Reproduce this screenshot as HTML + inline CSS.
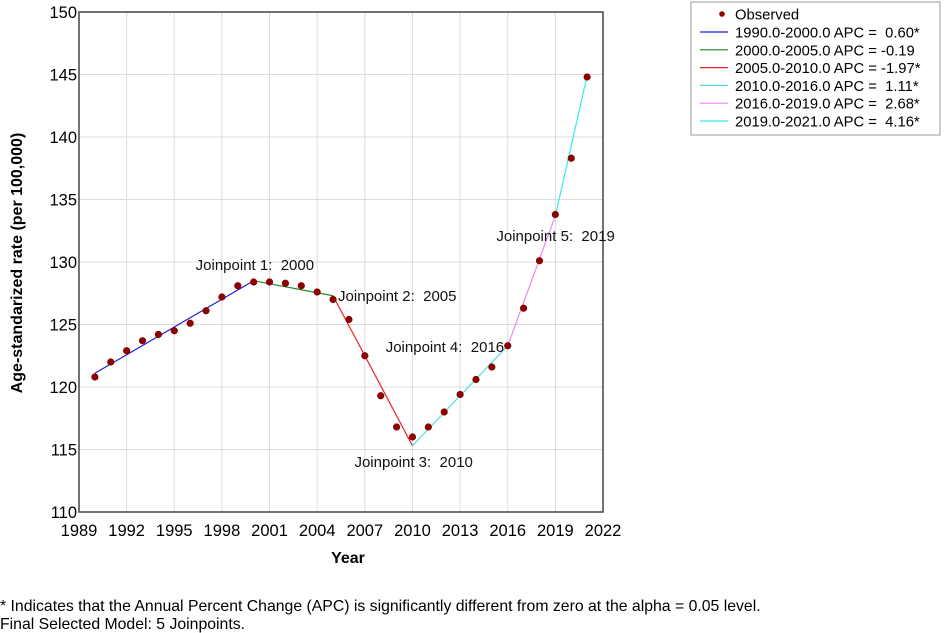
<!DOCTYPE html>
<html><head><meta charset="utf-8"><style>
html,body{margin:0;padding:0;background:#fff;}
svg{display:block;font-family:"Liberation Sans",Arial,sans-serif;}
text{white-space:pre;}
</style></head><body>
<svg id="chart" width="945" height="633" viewBox="0 0 945 633" xmlns="http://www.w3.org/2000/svg">
<g id="grid"></g>
<g id="lines"></g>
<g id="dots"></g>
<g id="axes"></g>
<g id="labels" font-size="15" fill="#111"></g>
<text x="0" y="0" transform="translate(22,263) rotate(-90)" text-anchor="middle" font-size="16" font-weight="bold">Age-standarized rate (per 100,000)</text>
<text x="348" y="563" text-anchor="middle" font-size="16" font-weight="bold">Year</text>
<text x="0" y="611" font-size="15.8">* Indicates that the Annual Percent Change (APC) is significantly different from zero at the alpha = 0.05 level.</text>
<text x="0" y="629" font-size="15.8">Final Selected Model: 5 Joinpoints.</text>
<g id="legend">
<rect x="691" y="2" width="249" height="133" fill="#fff" stroke="#999" stroke-width="1"/>
</g>
</svg>
<script>
const years = [1990,1991,1992,1993,1994,1995,1996,1997,1998,1999,2000,2001,2002,2003,2004,2005,2006,2007,2008,2009,2010,2011,2012,2013,2014,2015,2016,2017,2018,2019,2020,2021];
const observed = [120.8,122.0,122.9,123.7,124.2,124.5,125.1,126.1,127.2,128.1,128.4,128.4,128.3,128.1,127.6,127.0,125.4,122.5,119.3,116.8,116.0,116.8,118.0,119.4,120.6,121.6,123.3,126.3,130.1,133.8,138.3,144.8];
const jpYears = [1990,2000,2005,2010,2016,2019,2021];
const jpFitted = [121.1,128.5,127.3,115.3,123.3,133.7,144.9];
const segColors = ["#2020d0","#228822","#ee2222","#55dddd","#ee88ee","#33eeee"];
const legendLabels = ["1990.0-2000.0 APC =  0.60*","2000.0-2005.0 APC = -0.19","2005.0-2010.0 APC = -1.97*","2010.0-2016.0 APC =  1.11*","2016.0-2019.0 APC =  2.68*","2019.0-2021.0 APC =  4.16*"];
const xTicks = [1989,1992,1995,1998,2001,2004,2007,2010,2013,2016,2019,2022];
const yTicks = [110,115,120,125,130,135,140,145,150];
const jpLabels = ["Joinpoint 1:  2000","Joinpoint 2:  2005","Joinpoint 3:  2010","Joinpoint 4:  2016","Joinpoint 5:  2019"];

const NS="http://www.w3.org/2000/svg";
const X0=79,X1=603,Y0=512,Y1=12;
function xs(v){return X0+(v-1989)/(2022-1989)*(X1-X0);}
function ys(v){return Y0-(v-110)/(150-110)*(Y0-Y1);}
function mk(tag,attrs,parent){const e=document.createElementNS(NS,tag);for(const k in attrs)e.setAttribute(k,attrs[k]);parent.appendChild(e);return e;}
const grid=document.getElementById('grid'),axes=document.getElementById('axes'),lines=document.getElementById('lines'),dots=document.getElementById('dots'),labels=document.getElementById('labels'),legend=document.getElementById('legend');

xTicks.forEach(t=>{
  const l=mk('line',{x1:xs(t),x2:xs(t),y1:Y1,y2:Y0,stroke:'#dcdcdc','stroke-width':1},grid);
  
  
  const tx=mk('text',{x:xs(t),y:Y0+24,'text-anchor':'middle','font-size':16.5},axes);
  tx.textContent=t;
  
  
});
yTicks.forEach(t=>{
  const l=mk('line',{x1:X0,x2:X1,y1:ys(t),y2:ys(t),stroke:'#dcdcdc','stroke-width':1},grid);
  
  
  const tx=mk('text',{x:X0-2,y:ys(t)+6,'text-anchor':'end','font-size':16.5},axes);
  tx.textContent=t;
  
  
});
const frame=mk('path',{d:`M${X0},${Y1}H${X1}V${Y0}H${X0}Z`,fill:'none',stroke:'#444','stroke-width':1.5},axes);



for(let i=0;i<jpYears.length-1;i++){
  const l=mk('line',{x1:xs(jpYears[i]),y1:ys(jpFitted[i]),x2:xs(jpYears[i+1]),y2:ys(jpFitted[i+1]),stroke:segColors[i],'stroke-width':1.2},lines);
  
  
}
years.forEach((y,i)=>{
  const c=mk('circle',{cx:xs(y),cy:ys(observed[i]),r:3.6,fill:'#8b0000'},dots);
  
  
});
const jpOff=[[-58,-11],[5,5],[-58,21],[-122,6],[-59,25]];
for(let i=1;i<=5;i++){
  const o=jpOff[i-1];
  const t=mk('text',{x:xs(jpYears[i])+o[0],y:ys(jpFitted[i])+o[1]},labels);
  t.textContent=jpLabels[i-1];
  
  
}
const lc=mk('circle',{cx:722,cy:14,r:2.8,fill:'#8b0000'},legend);


const lt=mk('text',{x:735,y:19.5,'font-size':14.8},legend);
lt.textContent='Observed';


legendLabels.forEach((s,i)=>{
  const y=32+i*17.8;
  const l=mk('line',{x1:700,x2:728,y1:y,y2:y,stroke:segColors[i],'stroke-width':1.2},legend);
  
  
  const t=mk('text',{x:735,y:y+5.5,'font-size':14.8},legend);
  t.textContent=s;
  
  
});
</script>
</body></html>
